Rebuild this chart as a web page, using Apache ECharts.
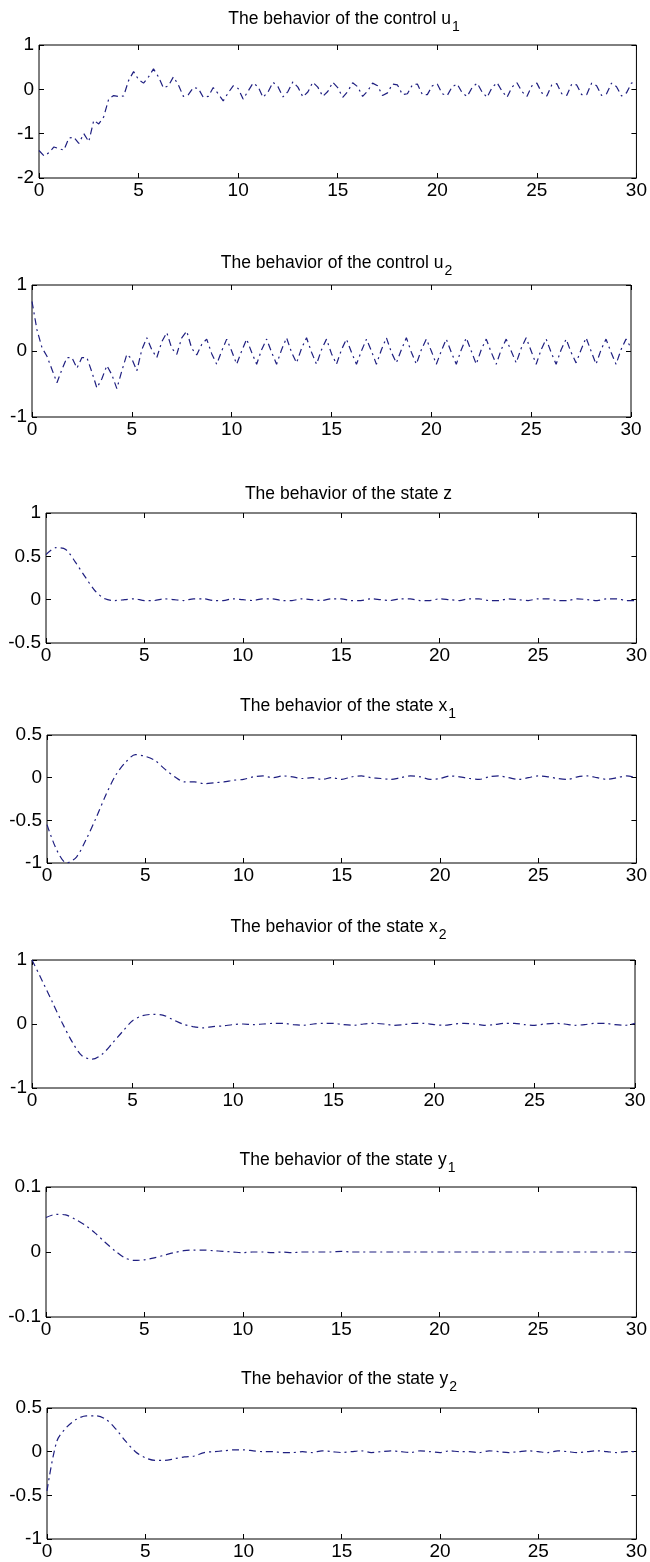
<!DOCTYPE html>
<html>
<head>
<meta charset="utf-8">
<title>Behavior of controls and states</title>
<script src="https://cdn.jsdelivr.net/npm/echarts@6/dist/echarts.min.js"></script>
<style>
  html, body { margin: 0; padding: 0; background: #fff; }
  #chart { width: 650px; height: 1562px; }
</style>
</head>
<body>
<div id="chart"></div>
<script>
// time grids (sample points along the x axis)
const tFine = []
for (let i = 0; i <= 120; i++) tFine.push(i / 4)
const tCoarse = []
for (let i = 0; i <= 60; i++) tCoarse.push(i / 2)

// control u1, sampled every 0.25
const u1 = [
  -1.38, -1.50, -1.43, -1.30, -1.34, -1.37, -1.10, -1.08, -1.22, -1.00,
  -1.18, -0.70, -0.78, -0.62, -0.22, -0.14, -0.16, -0.15, 0.20, 0.40,
  0.22, 0.14, 0.28, 0.46, 0.28, 0.03, 0.08, 0.28, 0.10, -0.16,
  -0.12, 0.04, 0.02, -0.18, -0.16, 0.04, -0.10, -0.26, -0.08, 0.08,
  0.02, -0.22, -0.04, 0.14, 0.06, -0.18, -0.06, 0.16, 0.06, -0.17,
  -0.05, 0.17, 0.05, -0.17, -0.06, 0.16, 0.05, -0.16, -0.05, 0.16,
  0.04, -0.18, -0.05, 0.15, 0.06, -0.16, -0.04, 0.14, 0.08, -0.14,
  -0.08, 0.12, 0.10, -0.12, -0.10, 0.10, 0.12, -0.12, -0.12, 0.08,
  0.12, -0.10, -0.14, 0.06, 0.12, -0.08, -0.16, 0.04, 0.14, -0.06,
  -0.18, 0.04, 0.15, -0.04, -0.18, 0.05, 0.15, -0.05, -0.16, 0.08,
  0.14, -0.08, -0.15, 0.10, 0.13, -0.10, -0.14, 0.12, 0.10, -0.12,
  -0.12, 0.14, 0.08, -0.14, -0.10, 0.14, 0.06, -0.15, -0.08, 0.14,
  0.18
]

// control u2, sampled every 0.25
const u2 = [
  0.75, 0.32, 0.05, -0.08, -0.28, -0.48, -0.28, -0.10, -0.10, -0.26,
  -0.10, -0.10, -0.32, -0.56, -0.42, -0.22, -0.36, -0.57, -0.30, -0.05,
  -0.12, -0.30, 0.02, 0.20, 0.02, -0.10, 0.14, 0.28, 0.04, -0.05,
  0.20, 0.30, 0.04, -0.06, 0.10, 0.18, -0.04, -0.20, 0.00, 0.18,
  0.00, -0.20, 0.00, 0.18, -0.02, -0.20, 0.02, 0.18, -0.02, -0.20,
  0.02, 0.20, -0.02, -0.18, 0.04, 0.20, -0.02, -0.20, 0.02, 0.18,
  -0.04, -0.20, 0.02, 0.18, -0.02, -0.20, 0.00, 0.18, 0.00, -0.20,
  0.02, 0.20, -0.02, -0.18, 0.02, 0.20, -0.02, -0.20, 0.02, 0.18,
  0.00, -0.20, 0.00, 0.18, -0.02, -0.20, 0.02, 0.20, 0.00, -0.20,
  0.02, 0.18, -0.02, -0.20, 0.02, 0.18, 0.00, -0.18, 0.04, 0.20,
  0.00, -0.20, 0.02, 0.18, -0.02, -0.20, 0.02, 0.18, -0.02, -0.18,
  0.02, 0.20, 0.00, -0.20, 0.02, 0.18, -0.02, -0.20, 0.02, 0.18,
  0.05
]

// states, sampled every 0.5
const z = [
  0.52, 0.60, 0.58, 0.43, 0.26, 0.10, 0.01, -0.01, 0.00, 0.01,
  -0.01, -0.01, 0.01, 0.00, -0.01, 0.01, 0.01, -0.01, -0.01, 0.01,
  0.00, -0.01, 0.01, 0.01, -0.01, -0.01, 0.01, 0.00, -0.01, 0.01,
  0.01, -0.01, -0.01, 0.01, 0.00, -0.01, 0.01, 0.01, -0.01, -0.01,
  0.01, 0.00, -0.01, 0.01, 0.01, -0.01, -0.01, 0.01, 0.00, -0.01,
  0.01, 0.01, -0.01, -0.01, 0.01, 0.00, -0.01, 0.01, 0.01, -0.01,
  -0.01
]
const x1 = [
  -0.55, -0.85, -1.00, -0.93, -0.72, -0.47, -0.20, 0.03, 0.18, 0.27,
  0.25, 0.20, 0.10, 0.01, -0.05, -0.05, -0.07, -0.06, -0.05, -0.03,
  -0.02, 0.01, 0.02, 0.00, 0.02, 0.01, -0.01, 0.00, -0.02, 0.00,
  -0.02, 0.01, 0.02, 0.00, -0.01, -0.02, 0.00, 0.02, 0.01, -0.02,
  -0.01, 0.02, 0.01, -0.01, -0.02, 0.01, 0.02, 0.00, -0.02, 0.00,
  0.02, 0.01, -0.01, -0.02, 0.01, 0.02, 0.00, -0.02, 0.00, 0.02,
  0.00
]
const x2 = [
  1.00, 0.68, 0.35, 0.02, -0.28, -0.50, -0.55, -0.47, -0.30, -0.12,
  0.05, 0.13, 0.15, 0.14, 0.07, 0.00, -0.04, -0.06, -0.04, -0.03,
  -0.01, 0.00, -0.01, 0.00, 0.01, 0.01, -0.01, -0.02, 0.00, 0.01,
  0.01, -0.01, -0.02, 0.00, 0.01, 0.00, -0.02, -0.01, 0.01, 0.01,
  -0.01, -0.02, 0.00, 0.01, 0.00, -0.02, -0.01, 0.01, 0.01, -0.01,
  -0.02, 0.00, 0.01, 0.00, -0.02, -0.01, 0.01, 0.01, -0.01, -0.02,
  0.01
]
const y1 = [
  0.053, 0.058, 0.057, 0.050, 0.041, 0.029, 0.015, 0.002, -0.009, -0.013,
  -0.012, -0.009, -0.005, -0.001, 0.002, 0.003, 0.003, 0.002, 0.001, 0.000,
  -0.001, 0.000, 0.000, -0.001, 0.000, -0.001, 0.000, 0.000, 0.000, 0.000,
  0.001, 0.000, 0.000, 0.000, 0.000, 0.000, 0.000, 0.000, 0.000, 0.000,
  0.000, 0.000, 0.000, 0.000, 0.000, 0.000, 0.000, 0.000, 0.000, 0.000,
  0.000, 0.000, 0.000, 0.000, 0.000, 0.000, 0.000, 0.000, 0.000, 0.000,
  0.000
]
const y2 = [
  -0.45, 0.12, 0.28, 0.37, 0.41, 0.41, 0.37, 0.26, 0.12, 0.00,
  -0.07, -0.10, -0.10, -0.08, -0.06, -0.05, -0.01, 0.00, 0.01, 0.02,
  0.02, 0.01, 0.00, 0.00, -0.01, -0.01, 0.00, -0.01, 0.01, 0.00,
  -0.01, 0.00, 0.01, -0.01, 0.00, 0.01, 0.00, -0.01, 0.01, 0.00,
  -0.01, 0.01, 0.00, 0.00, -0.01, 0.01, 0.00, -0.01, 0.00, 0.01,
  0.00, -0.01, 0.01, 0.00, -0.01, 0.00, 0.01, 0.00, -0.01, 0.00,
  0.00
]

// panel titles (main text + subscript)
const titles = [
  'The behavior of the control u', 'The behavior of the control u',
  'The behavior of the state z', 'The behavior of the state x',
  'The behavior of the state x', 'The behavior of the state y',
  'The behavior of the state y'
]
const subs = ['1', '2', '', '1', '2', '1', '2']

// y axis ranges and tick steps
const yMin = [-2, -1, -0.5, -1, -1, -0.1, -1]
const yMax = [1, 1, 1, 0.5, 1, 0.1, 0.5]
const yStep = [1, 1, 0.5, 0.5, 1, 0.1, 0.5]

const seriesT = [tFine, tFine, tCoarse, tCoarse, tCoarse, tCoarse, tCoarse]
const seriesV = [u1, u2, z, x1, x2, y1, y2]

// plot boxes in px: left, top, right, bottom
const boxes = [
  [39, 45, 639, 178],
  [32, 285, 631, 417],
  [46, 513, 641, 643],
  [47, 735, 639, 863],
  [32, 960, 635, 1088],
  [46, 1187, 639, 1317],
  [47, 1408, 641, 1539]
]
const titleTop = [5, 249, 480, 692, 913, 1146, 1365]

const font = "'Liberation Sans', Arial, sans-serif"
const lineColor = '#1f1f80'

const chart = echarts.init(document.getElementById('chart'))

const grid = [], xAxis = [], yAxis = [], title = [], series = []
boxes.forEach((b, i) => {
  grid.push({
    left: b[0], top: b[1], width: b[2] - b[0], height: b[3] - b[1],
    show: true, borderColor: '#000', borderWidth: 1, backgroundColor: '#fff'
  })
  const tick = { inside: true, length: 5, lineStyle: { color: '#000' } }
  const noLine = { show: false, onZero: false }
  const label = { color: '#000', fontSize: 19, fontFamily: font }
  // bottom and top x axes
  xAxis.push({
    gridIndex: i, type: 'value', min: 0, max: 30, interval: 5, position: 'bottom',
    axisLine: noLine, axisTick: tick, splitLine: { show: false },
    axisLabel: { ...label, margin: 3 }
  })
  xAxis.push({
    gridIndex: i, type: 'value', min: 0, max: 30, interval: 5, position: 'top',
    axisLine: noLine, axisTick: tick, splitLine: { show: false },
    axisLabel: { show: false }
  })
  // left and right y axes
  yAxis.push({
    gridIndex: i, type: 'value', min: yMin[i], max: yMax[i], interval: yStep[i], position: 'left',
    axisLine: noLine, axisTick: tick, splitLine: { show: false },
    axisLabel: { ...label, margin: 5 }
  })
  yAxis.push({
    gridIndex: i, type: 'value', min: yMin[i], max: yMax[i], interval: yStep[i], position: 'right',
    axisLine: noLine, axisTick: tick, splitLine: { show: false },
    axisLabel: { show: false }
  })
  title.push({
    text: '{m|' + titles[i] + '}' + (subs[i] ? '{s|' + subs[i] + '}' : ''),
    left: (b[0] + b[2]) / 2, top: titleTop[i], textAlign: 'center',
    textStyle: {
      fontWeight: 'normal',
      rich: {
        m: { fontSize: 17.5, fontFamily: font, fontWeight: 'normal', color: '#000', padding: [0, 0, 6, 0], verticalAlign: 'bottom' },
        s: { fontSize: 14, fontFamily: font, fontWeight: 'normal', color: '#000', padding: [0, 0, 0, 1], verticalAlign: 'bottom' }
      }
    }
  })
  series.push({
    type: 'line',
    xAxisIndex: 2 * i,
    yAxisIndex: 2 * i,
    data: seriesT[i].map((t, k) => [t, seriesV[i][k]]),
    showSymbol: false,
    smooth: i >= 2 ? 0.3 : false,
    lineStyle: { color: lineColor, width: 1.2, type: [7, 4, 2, 4] },
    animation: false
  })
})

chart.setOption({
  backgroundColor: '#fff',
  animation: false,
  title, grid, xAxis, yAxis, series
})
</script>
</body>
</html>
